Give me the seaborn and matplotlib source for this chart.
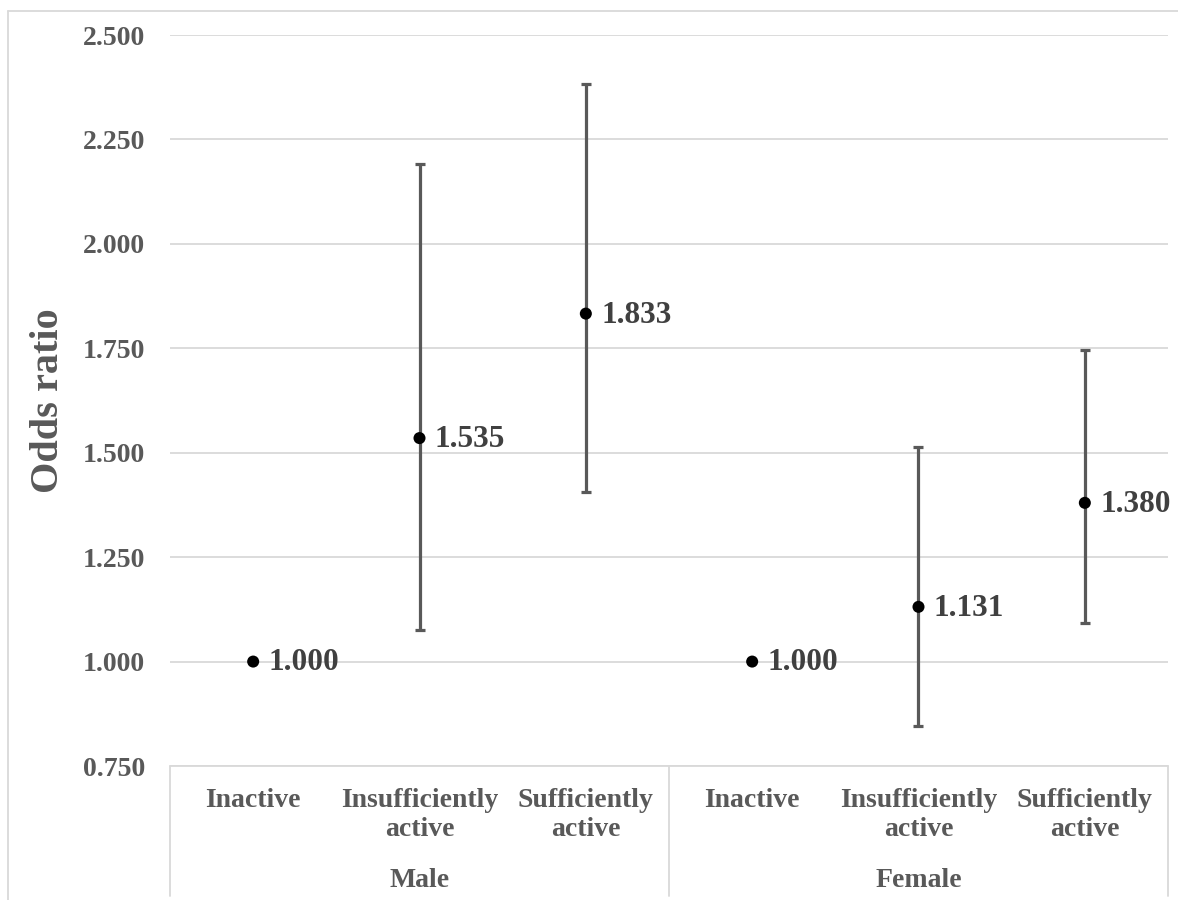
import matplotlib
matplotlib.use("Agg")
import matplotlib.pyplot as plt
import seaborn as sns
import pandas as pd

# data
sexes = ["Male", "Male", "Male", "Female", "Female", "Female"]
activity = ["Inactive", "Insufficiently\nactive", "Sufficiently\nactive",
            "Inactive", "Insufficiently\nactive", "Sufficiently\nactive"]
odds = [1.000, 1.535, 1.833, 1.000, 1.131, 1.380]
ci_low = [1.000, 1.076, 1.407, 1.000, 0.846, 1.093]
ci_high = [1.000, 2.192, 2.382, 1.000, 1.514, 1.746]
yticks = [0.75, 1.0, 1.25, 1.5, 1.75, 2.0, 2.25, 2.5]

df = pd.DataFrame({"sex": sexes, "activity": activity, "odds": odds,
                   "lo": ci_low, "hi": ci_high})
df["pos"] = range(len(df))

sns.set_style("white")
plt.rcParams["font.family"] = ["Liberation Serif", "DejaVu Serif"]
plt.rcParams["font.weight"] = "bold"

grey = "#595959"
light = "#d9d9d9"
fig = plt.figure(figsize=(11.78, 9), dpi=100)
ax = fig.add_axes([170 / 1178, 1 - 766 / 900, 998 / 1178, 731 / 900])

# confidence intervals (skip the reference groups)
ci = df[df["hi"] > df["lo"]]
ax.errorbar(ci["pos"], ci["odds"],
            yerr=[ci["odds"] - ci["lo"], ci["hi"] - ci["odds"]],
            fmt="none", ecolor=grey, elinewidth=2.3, capsize=3.5, capthick=2.3,
            zorder=2)
sns.scatterplot(data=df, x="pos", y="odds", color="black", s=75,
                edgecolor="none", zorder=3, ax=ax)

for _, r in df.iterrows():
    ax.annotate(f"{r['odds']:.3f}", (r["pos"], r["odds"]), xytext=(11, -1),
                textcoords="offset points", va="center", ha="left",
                fontsize=22.5, fontweight="bold", color="#404040")

ax.set_xlim(-0.5, 5.5)
ax.set_ylim(0.75, 2.5)
ax.set_yticks(yticks)
ax.set_yticklabels([f"{t:.3f}" for t in yticks])
ax.tick_params(axis="y", length=0, pad=18, labelsize=20, labelcolor=grey)
ax.set_xticks([])
ax.set_xlabel("")
ax.set_ylabel("Odds ratio", fontsize=29, fontweight="bold", color=grey,
              labelpad=11)
ax.grid(axis="y", color=light, linewidth=1.3)
for s in ax.spines.values():
    s.set_visible(False)

# multi-level category axis
trans = ax.get_xaxis_transform()
ax.plot([-0.5, 5.5], [0, 0], color=light, lw=1.3, transform=trans,
        clip_on=False)
for xb in [-0.5, 2.5, 5.5]:
    ax.plot([xb, xb], [0, -0.178], color=light, lw=1.3, transform=trans,
            clip_on=False)
for p, lab in zip(df["pos"], df["activity"]):
    ax.text(p, -0.030, lab, transform=trans, ha="center", va="top",
            fontsize=20, fontweight="bold", color=grey, linespacing=1.2)
for sex, g in df.groupby("sex", sort=False):
    ax.text(g["pos"].mean(), -0.157, sex, transform=trans, ha="center",
            va="center", fontsize=20, fontweight="bold", color=grey)

# chart frame (left and top edges are visible in the reference)
fig.add_artist(plt.Line2D([8 / 1178, 8 / 1178], [0, 1 - 11 / 900],
                          transform=fig.transFigure, color=light, lw=1.3))
fig.add_artist(plt.Line2D([8 / 1178, 1], [1 - 11 / 900, 1 - 11 / 900],
                          transform=fig.transFigure, color=light, lw=1.3))

fig.savefig("out.png", dpi=100)
